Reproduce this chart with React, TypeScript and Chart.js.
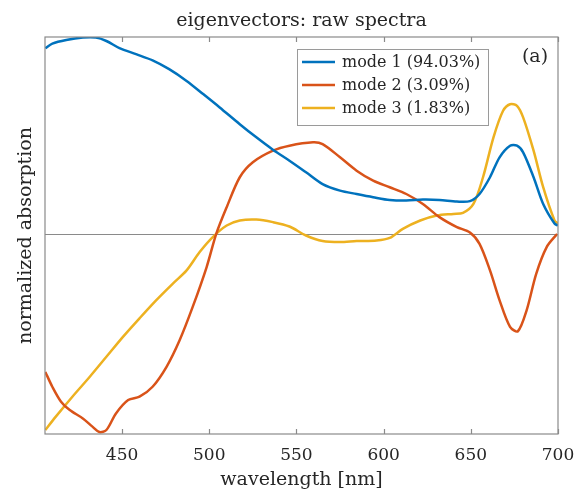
import React, { useEffect, useRef } from "react";
import { Chart, registerables } from "chart.js";

Chart.register(...registerables);

const titleText = "eigenvectors: raw spectra";
const xLabel = "wavelength [nm]";
const yLabel = "normalized absorption";
const panelLabel = "(a)";
const seriesNames = ["mode 1 (94.03%)", "mode 2 (3.09%)", "mode 3 (1.83%)"];
const seriesColors = ["#0072BD", "#D95319", "#EDB120"];
const xTickValues = [450, 500, 550, 600, 650, 700];

const mode1Wavelengths = [406, 410, 418, 427.5, 435, 441, 448.5, 458, 467.5, 477, 487, 496.5, 506, 517.5, 527, 536.5, 546, 555.5, 565, 575, 584.5, 594, 603.5, 613, 622.5, 632, 642, 649.5, 655, 661, 666.5, 672.5, 676.5, 680, 686, 691.5, 698, 700];
const mode1Values = [0.934, 0.957, 0.975, 0.987, 0.987, 0.97, 0.934, 0.904, 0.873, 0.829, 0.77, 0.704, 0.637, 0.553, 0.487, 0.425, 0.37, 0.312, 0.253, 0.22, 0.203, 0.187, 0.173, 0.17, 0.175, 0.173, 0.165, 0.167, 0.203, 0.287, 0.387, 0.445, 0.445, 0.412, 0.287, 0.153, 0.055, 0.045];

const mode2Wavelengths = [406, 410, 415, 420, 427.5, 433, 437, 441, 446.5, 453.5, 460, 467.5, 475.5, 483, 490.5, 498.5, 504, 510, 517.5, 525, 536.5, 546, 559.5, 565, 575, 584.5, 594, 603.5, 613, 622.5, 632, 642, 649.5, 655, 661, 666.5, 672.5, 677, 682, 687.5, 693.5, 699.5];
const mode2Values = [-0.689, -0.763, -0.838, -0.88, -0.922, -0.963, -0.99, -0.98, -0.897, -0.83, -0.813, -0.763, -0.663, -0.53, -0.363, -0.163, 0.003, 0.137, 0.287, 0.362, 0.42, 0.445, 0.462, 0.453, 0.387, 0.32, 0.27, 0.237, 0.203, 0.153, 0.087, 0.037, 0.01, -0.047, -0.18, -0.33, -0.463, -0.485, -0.38, -0.197, -0.063, 0.003];

const mode3Wavelengths = [406, 412, 421.5, 431.5, 441, 450.5, 460, 469.5, 479, 487, 494.5, 502, 510, 517.5, 527, 536.5, 546, 555.5, 565, 575, 584.5, 596, 603.5, 611, 621, 630.5, 640, 645.5, 651.5, 657, 663, 668.5, 672.5, 676.5, 680, 686, 691.5, 698, 700];
const mode3Values = [-0.98, -0.913, -0.813, -0.713, -0.613, -0.513, -0.42, -0.33, -0.247, -0.18, -0.088, -0.013, 0.045, 0.07, 0.075, 0.062, 0.04, -0.005, -0.033, -0.038, -0.033, -0.03, -0.017, 0.028, 0.07, 0.095, 0.103, 0.108, 0.153, 0.287, 0.487, 0.62, 0.653, 0.645, 0.587, 0.42, 0.237, 0.07, 0.055];

const xMin = 405.8;
const xMax = 700;
const yMin = -1;
const yMax = 0.99;

const FONT = "'DejaVu Serif', serif";
const TEXT_COLOR = "#262626";
const AXIS_COLOR = "#8a8a8a";

function toPoints(xs: number[], ys: number[]) {
  return xs.map((x, i) => ({ x, y: ys[i] }));
}

const framePlugin = {
  id: "frame",
  beforeDatasetsDraw(chart: any) {
    const { ctx, chartArea } = chart;
    const { left, right } = chartArea;
    const yScale = chart.scales.y;
    ctx.save();
    const y0 = yScale.getPixelForValue(0);
    ctx.strokeStyle = AXIS_COLOR;
    ctx.lineWidth = 1.2;
    ctx.beginPath();
    ctx.moveTo(left, y0);
    ctx.lineTo(right, y0);
    ctx.stroke();
    ctx.restore();
  },
  afterDatasetsDraw(chart: any) {
    const { ctx, chartArea } = chart;
    const { left, right, top, bottom } = chartArea;
    const xScale = chart.scales.x;
    ctx.save();
    ctx.strokeStyle = AXIS_COLOR;
    ctx.lineWidth = 1.2;
    ctx.strokeRect(left, top, right - left, bottom - top);
    ctx.beginPath();
    xTickValues.forEach((v) => {
      const px = Math.round(xScale.getPixelForValue(v)) + 0.5;
      ctx.moveTo(px, bottom);
      ctx.lineTo(px, bottom - 5);
      ctx.moveTo(px, top);
      ctx.lineTo(px, top + 5);
    });
    ctx.stroke();

    // legend
    const bx = 297, by = 49, bw = 191, bh = 76;
    ctx.fillStyle = "#ffffff";
    ctx.fillRect(bx, by, bw, bh);
    ctx.strokeStyle = "#9a9a9a";
    ctx.lineWidth = 1;
    ctx.strokeRect(bx + 0.5, by + 0.5, bw, bh);
    ctx.font = `16px ${FONT}`;
    ctx.textBaseline = "middle";
    ctx.textAlign = "left";
    chart.data.datasets.forEach((ds: any, i: number) => {
      const ry = by + 13 + i * 23;
      ctx.strokeStyle = ds.borderColor;
      ctx.lineWidth = 2.5;
      ctx.beginPath();
      ctx.moveTo(bx + 5, ry);
      ctx.lineTo(bx + 38, ry);
      ctx.stroke();
      ctx.fillStyle = TEXT_COLOR;
      ctx.fillText(ds.label, bx + 45, ry + 1);
    });

    // panel label
    ctx.font = `19px ${FONT}`;
    ctx.fillStyle = TEXT_COLOR;
    ctx.textAlign = "center";
    ctx.textBaseline = "middle";
    ctx.fillText(panelLabel, 535, 57);
    ctx.restore();
  },
};

export default function App() {
  const canvasRef = useRef<HTMLCanvasElement | null>(null);

  useEffect(() => {
    const canvas = canvasRef.current;
    if (!canvas) return;
    const allSeries = [
      toPoints(mode1Wavelengths, mode1Values),
      toPoints(mode2Wavelengths, mode2Values),
      toPoints(mode3Wavelengths, mode3Values),
    ];
    const chart = new Chart(canvas, {
      type: "line",
      data: {
        datasets: allSeries.map((pts, i) => ({
          label: seriesNames[i],
          data: pts,
          borderColor: seriesColors[i],
          backgroundColor: seriesColors[i],
          borderWidth: 2.5,
          pointRadius: 0,
          tension: 0.3,
          fill: false,
        })),
      },
      options: {
        responsive: false,
        maintainAspectRatio: false,
        animation: false,
        layout: { padding: { left: 0, right: 16, top: 0, bottom: 0 } },
        plugins: {
          legend: { display: false },
          tooltip: { enabled: false },
          title: {
            display: true,
            text: titleText,
            fullSize: false,
            color: TEXT_COLOR,
            font: { family: FONT, size: 19, weight: "normal" },
            padding: { top: 9.5, bottom: 4.7 },
          },
        },
        scales: {
          x: {
            type: "linear",
            min: xMin,
            max: xMax,
            afterBuildTicks: (scale: any) => {
              scale.ticks = xTickValues.map((v) => ({ value: v }));
            },
            afterFit: (scale: any) => {
              scale.height = 61;
              scale.paddingLeft = 0;
              scale.paddingRight = 0;
            },
            grid: { display: false, drawTicks: false },
            border: { display: false },
            ticks: {
              color: TEXT_COLOR,
              font: { family: FONT, size: 17 },
              padding: 11,
              maxRotation: 0,
              autoSkip: false,
              callback: (v: any) => String(v),
            },
            title: {
              display: true,
              text: xLabel,
              color: TEXT_COLOR,
              font: { family: FONT, size: 19 },
              padding: { top: 0, bottom: 3.6 },
            },
          },
          y: {
            type: "linear",
            min: yMin,
            max: yMax,
            afterFit: (scale: any) => {
              scale.width = 45;
              scale.paddingTop = 0;
              scale.paddingBottom = 0;
            },
            grid: { display: false, drawTicks: false },
            border: { display: false },
            ticks: { display: false },
            title: {
              display: true,
              text: yLabel,
              color: TEXT_COLOR,
              font: { family: FONT, size: 19 },
              padding: { top: 14.6, bottom: 0 },
            },
          },
        },
      },
      plugins: [framePlugin],
    });
    return () => chart.destroy();
  }, []);

  return (
    <div style={{ position: "fixed", left: 0, top: 0, width: 574, height: 495, background: "#fff" }}>
      <canvas ref={canvasRef} width={574} height={495} style={{ width: 574, height: 495 }} />
    </div>
  );
}
